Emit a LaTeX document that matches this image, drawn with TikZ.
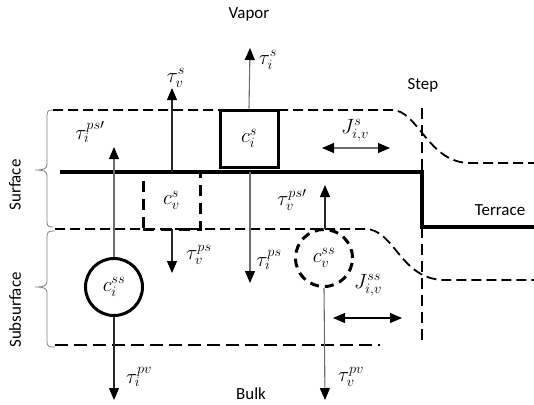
\documentclass[tikz,border=0pt]{standalone}
\usepackage{fontspec}
\setmainfont{Carlito}
\usetikzlibrary{arrows.meta}
\begin{document}
\begin{tikzpicture}[x=1bp,y=-1bp,
  lbl/.style={font=\fontsize{17}{20}\selectfont, inner sep=0},
  mlbl/.style={font=\fontsize{21}{24}\selectfont, inner sep=0},
  boundary/.style={line width=1.8bp, dash pattern=on 10bp off 5bp},
  lowboundary/.style={line width=2.2bp, dash pattern=on 13bp off 6bp},
  stepline/.style={line width=1.5bp, dash pattern=on 11bp off 6bp},
  interface/.style={line width=3.5bp},
  brace/.style={line width=0.8bp, draw=gray},
  flux/.style={line width=1.1bp, draw=gray!85!black, -{Triangle[width=10bp,length=12bp,color=black]}},
  fluxdark/.style={line width=1.1bp, draw=black!85, -{Triangle[width=10bp,length=12bp,color=black]}},
  jflux/.style={line width=1.1bp, {Triangle[width=10bp,length=12bp,color=black]}-{Triangle[width=10bp,length=12bp,color=black]}},
  solidsite/.style={draw, line width=3bp, inner sep=0},
  dashsite/.style={draw, line width=3bp, inner sep=0, dash pattern=on 11bp off 7bp}
]
\useasboundingbox (0,0) rectangle (534,404);

% boundaries
\draw[boundary] (53,110) -- (392,110) .. controls (418,110) and (428,163) .. (470,163) -- (534,163);
\draw[boundary] (55,229) -- (365,229) .. controls (395,229) and (400,280) .. (445,280) -- (534,280);
\draw[lowboundary] (55,345) -- (380,345);
\draw[stepline] (422,108) -- (422,172);
\draw[stepline] (422,227) -- (422,340);

% braces
\draw[brace] (53,110) .. controls (48,110) and (47,111) .. (47,116) -- (47,164)
  .. controls (47,169) and (44,170) .. (35,170)
  .. controls (44,170) and (47,171) .. (47,176) -- (47,221)
  .. controls (47,226) and (48,227) .. (53,227);
\draw[brace] (55,231) .. controls (48,231) and (47,232) .. (47,237) -- (47,281)
  .. controls (47,286) and (44,287) .. (35,287)
  .. controls (44,287) and (47,288) .. (47,293) -- (47,341)
  .. controls (47,346) and (48,347) .. (55,347);

% sites
\node[solidsite, minimum width=58bp, minimum height=57bp, mlbl] (cis) at (249,138.5) {$c_i^s$};
\node[dashsite, minimum width=57bp, minimum height=57bp, mlbl] (cvs) at (171.5,200.5) {$c_v^s$};
\node[solidsite, circle, minimum size=57bp, mlbl] (ciss) at (114,287) {$c_i^{ss}$};
\node[dashsite, circle, minimum size=57bp, mlbl, dash pattern=on 9bp off 6bp] (cvss) at (324,258) {$c_v^{ss}$};

% surface / step / terrace interface
\draw[interface] (60,172) -- (422,172) -- (422,227) -- (534,227);

% coordinates for free ends
\coordinate (tvsA) at (172,172);
\coordinate (tvsB) at (172,88);
\coordinate (tisB) at (250,48);
\coordinate (tipsA) at (250,172);
\coordinate (tipsB) at (250,283);
\coordinate (tipspB) at (114,147);
\coordinate (tvpsA) at (172,229);
\coordinate (tvpsB) at (172,273);
\coordinate (tvpspA) at (325,229);
\coordinate (tvpspB) at (325,185);
\coordinate (tipvB) at (114,400);
\coordinate (tvpvB) at (325,400);
\coordinate (jsA) at (322,148);
\coordinate (jsB) at (390,148);
\coordinate (jssA) at (333,318);
\coordinate (jssB) at (402,318);

% fluxes
\draw[flux] (ciss.north) -- (tipspB);
\draw[fluxdark] (tvsA) -- (tvsB);
\draw[flux] (cis.north) -- (tisB);
\draw[flux] (tipsA) -- (tipsB);
\draw[fluxdark] (tvpsA) -- (tvpsB);
\draw[fluxdark] (tvpspA) -- (tvpspB);
\draw[fluxdark] (ciss.south) -- (tipvB);
\draw[flux] (cvss.south) -- (tvpvB);
\draw[jflux, draw=gray!85!black] (jsA) -- (jsB);
\draw[jflux] (jssA) -- (jssB);

% flux labels
\node[mlbl] (ltipsp) at (90,132) {$\tau_i^{ps\prime}$};
\node[mlbl] (ltvs) at (176,78) {$\tau_v^{s}$};
\node[mlbl] (ltis) at (268,60) {$\tau_i^{s}$};
\node[mlbl] (ltvps) at (199,255) {$\tau_v^{ps}$};
\node[mlbl] (ltips) at (269,260) {$\tau_i^{ps}$};
\node[mlbl] (ltvpsp) at (292,200) {$\tau_v^{ps\prime}$};
\node[mlbl] (ltipv) at (139,377) {$\tau_i^{pv}$};
\node[mlbl] (ltvpv) at (351,377) {$\tau_v^{pv}$};
\node[mlbl] (ljs) at (355,130) {$J_{i,v}^{s}$};
\node[mlbl] (ljss) at (368,285) {$J_{i,v}^{ss}$};

% region labels
\node[lbl] (vapor) at (249,14) {Vapor};
\node[lbl] (step) at (423,85) {Step};
\node[lbl] (terrace) at (500,210) {Terrace};
\node[lbl] (bulk) at (251,394) {Bulk};
\node[lbl, rotate=90] (surface) at (15,185) {Surface};
\node[lbl, rotate=90] (subsurface) at (15,310) {Subsurface};
\end{tikzpicture}
\end{document}
